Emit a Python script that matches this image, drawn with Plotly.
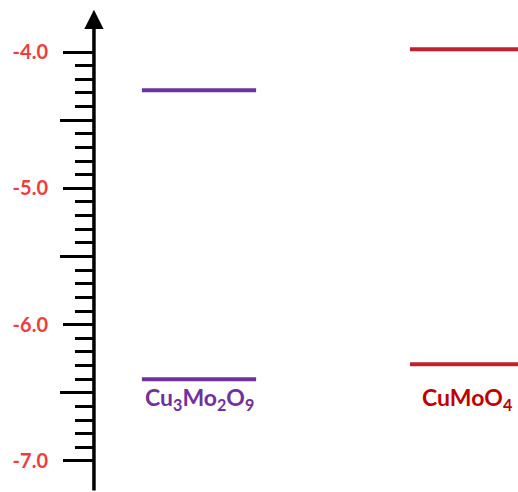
import plotly.graph_objects as go

# Data
compounds = ["Cu<sub>3</sub>Mo<sub>2</sub>O<sub>9</sub>", "CuMoO<sub>4</sub>"]
upper_levels = [-4.28, -3.98]
lower_levels = [-6.40, -6.29]
colors = ["#7030A0", "#C0202A"]
label_colors = ["#7030A0", "#C00000"]
major_ticks = [-4.0, -5.0, -6.0, -7.0]
major_labels = ["-4.0", "-5.0", "-6.0", "-7.0"]
half_ticks = [-4.5, -5.5, -6.5]
minor_ticks = [round(-7.0 + 0.1 * k, 1) for k in range(31)]

W, H = 518, 492
y_range = [-7.228, -3.618]
x_range = [-0.7425, 1.190]
half_w = 0.213
axis_x = -0.392
axis_pos = 94 / W
FONT = "Lato"

fig = go.Figure()
for i, name in enumerate(compounds):
    for lvl in (upper_levels[i], lower_levels[i]):
        fig.add_trace(go.Scatter(
            x=[i - half_w, i + half_w + 0.05 * i], y=[lvl, lvl], mode="lines",
            line=dict(color=colors[i], width=4), showlegend=False,
            hoverinfo="skip", cliponaxis=True))
    fig.add_annotation(x=i, y=-6.54, xref="x", yref="y", text=f"<b>{name}</b>",
                       showarrow=False, font=dict(family=FONT, size=23, color=label_colors[i]),
                       xanchor="center", yanchor="middle")

# axis line with arrow
fig.add_annotation(x=axis_x, y=-3.69, ax=axis_x, ay=y_range[0], xref="x", yref="y",
                   axref="x", ayref="y", text="", showarrow=True, arrowhead=2,
                   arrowsize=1.1, arrowwidth=3.5, arrowcolor="black")

fig.update_layout(
    width=W, height=H, margin=dict(l=0, r=0, t=0, b=0),
    paper_bgcolor="white", plot_bgcolor="white", showlegend=False,
    xaxis=dict(range=x_range, visible=False, fixedrange=True),
    yaxis=dict(range=y_range, anchor="free", position=axis_pos, showline=False,
               showgrid=False, zeroline=False, tickmode="array", tickvals=major_ticks,
               ticktext=major_labels, ticks="outside", ticklen=31, tickwidth=2.5,
               tickcolor="black", ticklabelstandoff=11,
               tickfont=dict(family=FONT, size=20, color="#F03C3C", weight="bold"),
               minor=dict(tickmode="array", tickvals=minor_ticks, ticks="outside",
                          ticklen=19, tickwidth=2.5, tickcolor="black", showgrid=False)),
    yaxis2=dict(range=y_range, overlaying="y", anchor="free", position=axis_pos,
                showline=False, showgrid=False, zeroline=False, tickmode="array",
                tickvals=half_ticks, showticklabels=False, ticks="outside", ticklen=34,
                tickwidth=2.5, tickcolor="black"),
)
# dummy trace on yaxis2 so it renders
fig.add_trace(go.Scatter(x=[None], y=[None], yaxis="y2", showlegend=False, hoverinfo="skip"))

fig.write_html("out.html", config={"displayModeBar": False},
               post_script="document.body.style.margin='0';document.body.style.overflow='hidden';")
